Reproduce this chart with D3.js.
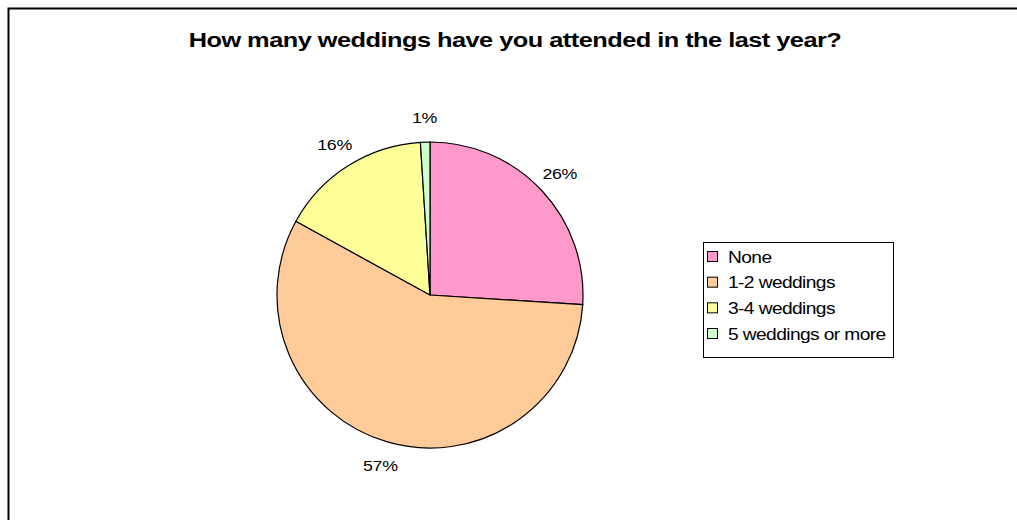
<!DOCTYPE html>
<html>
  <head>
    <meta charset="utf-8">
    <title>Weddings attended</title>
    <script src="https://d3js.org/d3.v7.min.js"></script>
  </head>
  <style>
    body { margin: 0; background: white; overflow: hidden; }
    text { font-family: "Liberation Sans", Arial, sans-serif; fill: #000; }
  </style>
  <body>
    <div id="chart"></div>
    <script>

    // data
    var categories = ["None", "1-2 weddings", "3-4 weddings", "5 weddings or more"];
    var values = [26, 57, 16, 1];
    var colors = ["#FF99CC", "#FFCC99", "#FFFF99", "#CCFFCC"];
    var title = "How many weddings have you attended in the last year?";

    var width = 1017, height = 520;
    var cx = 430, cy = 295, r = 153;

    var svg = d3.select("#chart").append("svg")
        .attr("width", width)
        .attr("height", height)
        .style("display", "block");

    // chart border, only top and left show, the rest runs off the page
    svg.append("path")
        .attr("d", "M8.5,600V8.5H1100")
        .attr("fill", "none")
        .attr("stroke", "#000")
        .attr("stroke-width", 2);

    // the original draws wide glyphs with tight spacing, so scale x
    svg.append("text")
        .attr("transform", "translate(515,47) scale(1.3,1)")
        .attr("text-anchor", "middle")
        .style("font-size", "19.5px")
        .style("font-weight", "bold")
        .style("letter-spacing", "-0.4px")
        .text(title);

    var pie = d3.pie().sort(null).value(d => d);
    var arcs = pie(values);
    var arc = d3.arc().innerRadius(0).outerRadius(r);
    var labelArc = d3.arc().innerRadius(178).outerRadius(178);

    var g = svg.append("g").attr("transform", "translate(" + cx + "," + cy + ")");

    g.selectAll("path")
        .data(arcs)
        .enter().append("path")
          .attr("d", arc)
          .attr("fill", (d, i) => colors[i])
          .attr("stroke", "#000")
          .attr("stroke-width", 1.2);

    g.selectAll("text")
        .data(arcs)
        .enter().append("text")
          .attr("transform", d => "translate(" + labelArc.centroid(d) + ") scale(1.15,1)")
          .attr("dy", "0.35em")
          .attr("text-anchor", "middle")
          .style("font-size", "15.5px")
          .style("letter-spacing", "-0.3px")
          .text(d => d.data + "%");

    // legend
    var legend = svg.append("g").attr("transform", "translate(703,242)");
    legend.append("rect")
        .attr("x", 0.5).attr("y", 0.5)
        .attr("width", 190).attr("height", 115)
        .attr("fill", "#fff")
        .attr("stroke", "#000");

    var rowY = d3.scalePoint().domain(categories).range([15, 92]);

    var item = legend.selectAll(".item")
        .data(categories)
        .enter().append("g")
          .attr("class", "item")
          .attr("transform", d => "translate(0," + rowY(d) + ")");

    item.append("rect")
        .attr("x", 4.5).attr("y", -5.5)
        .attr("width", 10).attr("height", 10)
        .attr("fill", (d, i) => colors[i])
        .attr("stroke", "#000");

    item.append("text")
        .attr("transform", "translate(25,0) scale(1.2,1)")
        .attr("dy", "0.35em")
        .style("font-size", "16px")
        .style("letter-spacing", "-0.5px")
        .text(d => d);

    </script>
  </body>
</html>
